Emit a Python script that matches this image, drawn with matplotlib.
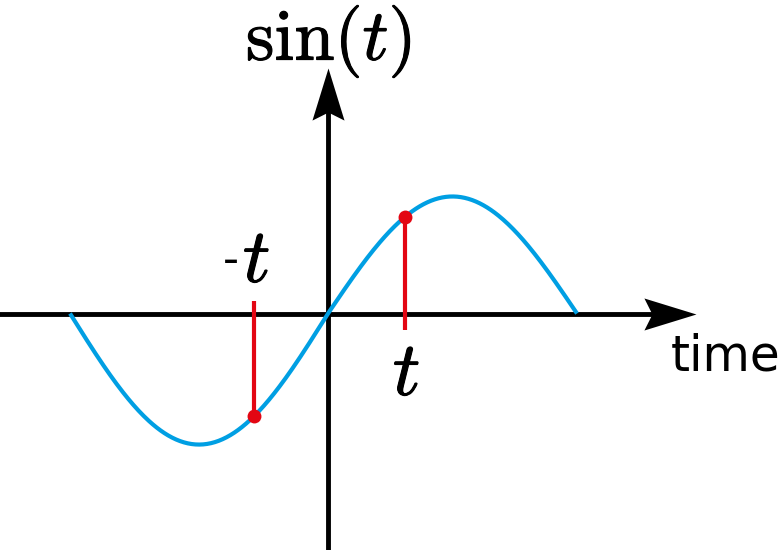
import numpy as np
from matplotlib import pyplot as plt
from matplotlib.path import Path
import matplotlib.patheffects as pe

plt.rcParams['mathtext.fontset'] = 'cm'

# the curve: sin(t) for t in [-pi, pi]
t_start = -np.pi
t_end = np.pi
n_points = 400

# the two marked points (-t and t)
marked_t = [-0.90, 0.97]
marked_labels = ['-t', 't']

# the left half of the drawing is a bit bigger than the right half
left_stretch_x = 1.036
left_stretch_y = 1.12

blue = '#009fe3'
red = '#e30613'


def stretch(t, s):
    t = np.asarray(t, dtype=float)
    s = np.asarray(s, dtype=float)
    x = np.where(t < 0, t * left_stretch_x, t)
    y = np.where(t < 0, s * left_stretch_y, s)
    return x, y


fig = plt.figure(figsize=(7.82, 5.5), dpi=100)
ax = fig.add_axes([0, 0, 1, 1])
ax.set_xlim(-4.138, 5.728)
ax.set_ylim(-2.021, 2.679)
ax.axis('off')

# axes lines with arrow heads
head_right = Path([(0, 0), (-52, 16), (-44, 0), (-52, -16), (0, 0)],
                  [Path.MOVETO, Path.LINETO, Path.LINETO, Path.LINETO, Path.CLOSEPOLY])
head_up = Path([(0, 0), (-16, -52), (0, -44), (16, -52), (0, 0)],
               [Path.MOVETO, Path.LINETO, Path.LINETO, Path.LINETO, Path.CLOSEPOLY])

ax.plot([-4.2, 4.2], [0, 0], color='black', lw=3.5, solid_capstyle='butt')
ax.plot([4.643], [0], marker=head_right, ms=75, color='black', mew=0)
ax.plot([0, 0], [-2.1, 1.8], color='black', lw=3.5, solid_capstyle='butt')
ax.plot([0], [2.098], marker=head_up, ms=75, color='black', mew=0)

# sine curve
t = np.linspace(t_start, t_end, n_points)
x, y = stretch(t, np.sin(t))
ax.plot(x, y, color=blue, lw=3, solid_capstyle='butt')

# marked points with their drop lines
mx, my = stretch(marked_t, np.sin(marked_t))
ax.plot([mx[0], mx[0]], [0.107, my[0]], color=red, lw=3, solid_capstyle='butt')
ax.plot([mx[1], mx[1]], [my[1], -0.141], color=red, lw=3, solid_capstyle='butt')
ax.plot(mx, my, 'o', color=red, ms=10, mew=0)

# labels
bold = [pe.withStroke(linewidth=0.8, foreground='black')]
ax.text(0.01, 2.17, r'$\sin(t)$', fontsize=52, ha='center', va='baseline',
        path_effects=bold)
ax.text(4.32, -0.483, 'time', fontsize=35, ha='left', va='baseline')
ax.text(0.99, -0.697, r'$t$', fontsize=55, ha='center', va='baseline',
        path_effects=bold)
ax.text(-0.902, 0.269, r'$t$', fontsize=55, ha='center', va='baseline',
        path_effects=bold)
ax.text(-1.23, 0.342, '-', fontsize=32, ha='center', va='baseline')

plt.savefig('out.png', dpi=100)
